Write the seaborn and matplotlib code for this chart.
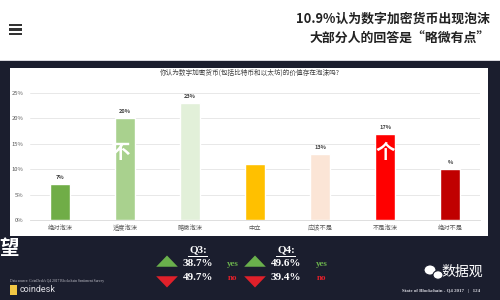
import matplotlib
matplotlib.use("Agg")
import matplotlib.pyplot as plt
import matplotlib.patches as mpatches
import seaborn as sns
import pandas as pd

categories = ["绝对泡沫", "适度泡沫", "略微泡沫", "中立", "应该不是", "不是泡沫", "绝对不是"]
values = [7, 20, 23, 11, 13, 17, 10]
value_labels = ["7%", "20%", "23%", "", "13%", "17%", "%"]
colors = ["#70AD47", "#A9D18E", "#E2F0D9", "#FFC000", "#FBE5D6", "#FF0000", "#C00000"]
y_ticks = [0, 5, 10, 15, 20, 25]
chart_title = "你认为数字加密货币(包括比特币和以太坊)的价值存在泡沫吗?"
header_lines = ["10.9%认为数字加密货币出现泡沫", "大部分人的回答是“略微有点”"]
q3_vals = ["38.7%", "49.7%"]
q4_vals = ["49.6%", "39.4%"]

sns.set_theme(style="white")
plt.rcParams['font.family'] = ['Noto Sans CJK SC', 'DejaVu Sans']

W, H = 500, 300
fig = plt.figure(figsize=(5, 3), dpi=100)
DARK = "#1b1e2e"
fig.patch.set_facecolor(DARK)

def px(x, y):
    return x / W, 1 - y / H

def rect(x, y, w, h, color, z=-1):
    fig.patches.append(mpatches.Rectangle((x / W, 1 - (y + h) / H), w / W, h / H, transform=fig.transFigure,
                                          facecolor=color, edgecolor="none", zorder=z))

# header white band
rect(0, 0, 500, 60, "white", -2)
rect(0, 59.5, 500, 1.5, "#d8d8de", -2)
# chart panel
rect(10, 68, 478, 168, "white", -2)

# hamburger icon
for yy in (24, 28.5, 33):
    rect(9, yy, 13, 2, "#333333", 1)

# header text
fig.text(*px(490, 19), header_lines[0], ha="right", va="center", fontsize=9.3, fontweight="bold", color="#222222")
fig.text(*px(490, 39), header_lines[1], ha="right", va="center", fontsize=9.3, fontweight="bold", color="#222222")

# chart axes
ax = fig.add_axes([30 / W, 1 - 220 / H, 450 / W, 127 / H])
ax.set_zorder(1)
ax.set_facecolor("white")
df = pd.DataFrame({"cat": categories, "val": values})
sns.barplot(data=df, x="cat", y="val", hue="cat", palette=colors, width=0.3, legend=False,
            ax=ax, saturation=1, zorder=3)
ax.set_ylim(0, 25)
ax.set_xlim(-0.46, 6.46)
ax.set_yticks(y_ticks)
ax.set_yticklabels([f"{t}%" for t in y_ticks], fontsize=4.2, color="#595959")
ax.tick_params(axis="x", labelsize=4.5, colors="#595959", length=0, pad=3)
ax.tick_params(axis="y", length=0, pad=4.5)
ax.set_xlabel("")
ax.set_ylabel("")
ax.grid(axis="y", color="#e4e4e4", linewidth=0.6, zorder=0)
ax.set_axisbelow(True)
for s in ["top", "right", "left"]:
    ax.spines[s].set_visible(False)
ax.spines["bottom"].set_color("#d9d9d9")
ax.spines["bottom"].set_linewidth(0.6)
for i, (v, lab) in enumerate(zip(values, value_labels)):
    if lab:
        ax.text(i, v + 0.8, lab, ha="center", va="bottom", fontsize=4, color="#404040", fontweight="bold")

fig.text(*px(250, 73), chart_title, ha="center", va="center", fontsize=4.8, color="#404040", zorder=5)

# overlay brush chars
for (x, y, ch) in [(120, 153, "不"), (385, 153, "个"), (9, 248, "望")]:
    fig.text(*px(x, y), ch, ha="center", va="center", fontsize=14, fontweight="bold", color="white", zorder=10)

# bottom stats
SERIF = ["Liberation Serif", "DejaVu Serif"]
fig.text(*px(198, 250), "Q3:", ha="center", va="center", fontsize=8, fontweight="bold", color="white", family=SERIF)
fig.text(*px(286, 250), "Q4:", ha="center", va="center", fontsize=8, fontweight="bold", color="white", family=SERIF)
for xq in (198, 286):
    rect(xq - 10, 256, 20, 0.8, "white", 1)
for xt in (167, 255):
    fig.patches.append(mpatches.RegularPolygon((xt / W, 1 - 263 / H), 3, radius=0.025, orientation=0,
                                               transform=fig.transFigure, facecolor="#6ab04c", edgecolor="none"))
    fig.patches.append(mpatches.RegularPolygon((xt / W, 1 - 280 / H), 3, radius=0.025, orientation=3.14159,
                                               transform=fig.transFigure, facecolor="#e0202a", edgecolor="none"))
for xv, vals in ((198, q3_vals), (286, q4_vals)):
    fig.text(*px(xv, 263), vals[0], ha="center", va="center", fontsize=8, fontweight="bold", color="white", family=SERIF)
    fig.text(*px(xv, 277), vals[1], ha="center", va="center", fontsize=8, fontweight="bold", color="white", family=SERIF)
for xy in (233, 322):
    fig.text(*px(xy, 264), "yes", ha="center", va="center", fontsize=6.5, fontweight="bold", color="#6ab04c", family=SERIF)
    fig.text(*px(xy, 278), "no", ha="center", va="center", fontsize=6.5, fontweight="bold", color="#e0202a", family=SERIF)

fig.text(*px(10, 281), "Data source: CoinDesk's Q4 2017 Blockchain Sentiment Survey", ha="left", va="center",
         fontsize=2.6, color="#c8c8d0", family=SERIF)
rect(10, 285, 7, 10, "#f2c744", 1)
fig.text(*px(20, 290), "coindesk", ha="left", va="center", fontsize=6.5, color="#e0e0e6", family=["Roboto", "DejaVu Sans"])
fig.text(*px(480, 291), "State of Blockchain - Q4 2017   |   124", ha="right", va="center", fontsize=3.5,
         fontweight="bold", color="#d8d8e0", family=SERIF)
fig.text(*px(483, 272), "数据观", ha="right", va="center", fontsize=10, color="white")
for (cx, cy, r) in ((430, 270, 6), (438, 275, 5)):
    fig.patches.append(mpatches.Ellipse((cx / W, 1 - cy / H), 2 * r / W, 1.7 * r / H, transform=fig.transFigure,
                                        facecolor="white", edgecolor=DARK, linewidth=0.8))

fig.savefig("out.png", dpi=100, facecolor=fig.get_facecolor())
